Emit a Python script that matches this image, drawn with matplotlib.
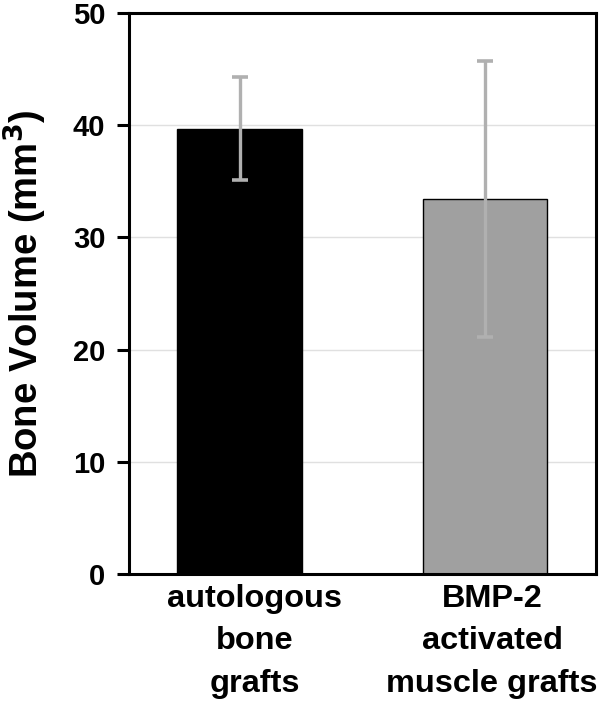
import matplotlib
matplotlib.use("Agg")
import matplotlib.pyplot as plt
from matplotlib.transforms import ScaledTranslation

categories = ["autologous\nbone\ngrafts", "BMP-2\nactivated\nmuscle grafts"]
means = [39.7, 33.4]
errors = [4.6, 12.3]
colors = ["#000000", "#a0a0a0"]
yticks = [0, 10, 20, 30, 40, 50]

plt.rcParams['font.family'] = ['Liberation Sans', 'DejaVu Sans']
plt.rcParams['font.weight'] = 'bold'

fig = plt.figure(figsize=(6, 7.02), dpi=100)
ax = fig.add_axes([0.215, 0.1823, 0.778, 0.7992])

x = list(range(len(categories)))
ax.bar(x, means, width=0.506, color=colors, edgecolor="black", linewidth=1.0, zorder=2)
ax.errorbar(x, means, yerr=errors, fmt="none", ecolor="#b0b0b0", elinewidth=2.4,
            capsize=6, capthick=2.6, zorder=3)

ax.set_xlim(-0.45, 1.45)
ax.set_ylim(0, 50)
ax.set_yticks(yticks)
ax.set_yticklabels([str(v) for v in yticks], fontsize=21, fontweight='bold')
ax.set_xticks(x)
ax.set_xticklabels(categories, fontsize=23.4, fontweight='bold', linespacing=1.55)
ax.tick_params(axis='x', length=0, pad=7)
ax.tick_params(axis='y', length=9, width=2.2, pad=8)
ax.yaxis.grid(True, color="#e0e0e0", linewidth=1, zorder=0)
ax.set_axisbelow(True)
for s in ax.spines.values():
    s.set_linewidth(2.2)
ax.set_ylabel("Bone Volume (mm$^\\mathbf{3}$)", fontsize=27.5, fontweight='bold', labelpad=17)

shifts = [0.15, 0.07]
for lab, dx in zip(ax.get_xticklabels(), shifts):
    lab.set_transform(lab.get_transform() + ScaledTranslation(dx, 0, fig.dpi_scale_trans))

fig.savefig("out.png", dpi=100)
